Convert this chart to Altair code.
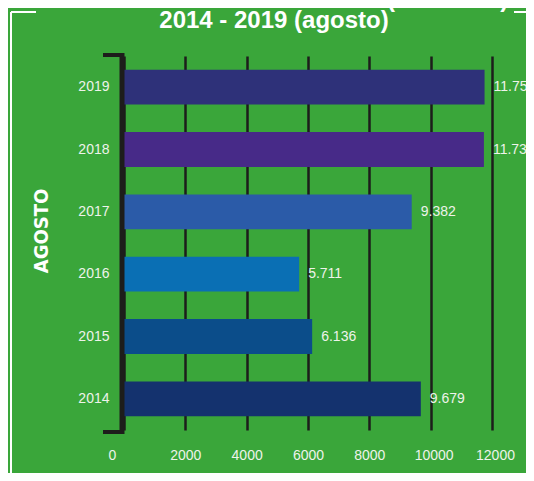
import altair as alt
import pandas as pd

years = ["2014", "2015", "2016", "2017", "2018", "2019"]
units = [9679, 6136, 5711, 9382, 11736, 11757]
bar_colors = ["#14326e", "#0b4d8a", "#0a6fb4", "#2b5ba8", "#472a88", "#2e3179"]
x_ticks = [0, 2000, 4000, 6000, 8000, 10000, 12000]

title_line1a = "Ventas históricas de vehículos"
title_line1b = "(unidades)"
title_line2 = "2014 - 2019 (agosto)"
side_label = "AGOSTO"

GREEN = "#3aa63a"
TXT = "#eef3ea"
INK = "#1d1d1b"
FONT = "Liberation Sans"

df = pd.DataFrame({
    "year": years,
    "units": units,
    "label": [f"{u:,}".replace(",", ".") for u in units],
})

y_sort = years[::-1]

x_enc = alt.X(
    "units:Q",
    scale=alt.Scale(domain=[0, 12000], nice=False),
    axis=alt.Axis(
        values=x_ticks, format="d", title=None, ticks=False, domain=False,
        grid=True, gridColor=INK, gridWidth=2.5, labelPadding=18,
        labelFontSize=14, labelColor=TXT, labelFont=FONT,
        labelFlush=False, labelOverlap=False,
        labelOffset={"expr": "datum.value == 0 ? -12 : (datum.value >= 10000 ? 3 : 0)"},
    ),
)
y_enc = alt.Y(
    "year:N", sort=y_sort,
    scale=alt.Scale(paddingInner=0.44, paddingOuter=0.22),
    axis=alt.Axis(title=None, ticks=False, domain=False, labelPadding=15,
                  labelFontSize=14, labelColor=TXT, labelFont=FONT),
)

bars = alt.Chart(df).mark_bar().encode(
    x=x_enc, y=y_enc,
    color=alt.Color("year:N", scale=alt.Scale(domain=years, range=bar_colors), legend=None),
)

values = alt.Chart(df).mark_text(align="left", baseline="middle", dx=9, fontSize=14,
                                 color=TXT, font=FONT).encode(
    x="units:Q", y=alt.Y("year:N", sort=y_sort), text="label:N")

one = pd.DataFrame({"a": [0]})

def rule(x, x2, y, y2, color, width):
    return alt.Chart(one).mark_rule(color=color, strokeWidth=width).encode(
        x=alt.value(x), x2=alt.value(x2), y=alt.value(y), y2=alt.value(y2))

bracket = alt.layer(
    rule(-2, -2, -3, 378, INK, 5),
    rule(-21, -2, -1, -1, INK, 4),
    rule(-21, -2, 376, 376, INK, 4),
)
frame = alt.layer(
    rule(-113, -113, -44, 440, "white", 2),
    rule(-113, -88, -44, -44, "white", 2),
    rule(390, 420, -44, -44, "white", 2),
)

def txt(s, x, y, font=FONT, **kw):
    return alt.Chart(pd.DataFrame({"t": [s]})).mark_text(font=font, color="white", **kw).encode(
        text="t:N", x=alt.value(x), y=alt.value(y))

titles = alt.layer(
    txt(title_line1a, 254, -49, align="right", baseline="alphabetic", fontSize=24),
    txt(title_line1b, 263, -49, align="left", baseline="alphabetic", fontSize=24, fontWeight="bold"),
    txt(title_line2, 150, -28, align="center", baseline="alphabetic", fontSize=24, fontWeight="bold"),
    txt(side_label, -82, 175, align="center", baseline="middle", fontSize=20, fontWeight="bold",
        angle=270, font="DejaVu Sans Condensed, Liberation Sans Narrow, DejaVu Sans"),
)

chart = alt.layer(frame, bars, values, bracket, titles).properties(
    width=368, height=374,
    autosize=alt.AutoSizeParams(type="none"),
    padding={"left": 116, "top": 48, "right": 34, "bottom": 43},
    background=GREEN,
).configure_view(stroke=None)

chart.save("out.html", embed_options={"renderer": "svg", "actions": False})
